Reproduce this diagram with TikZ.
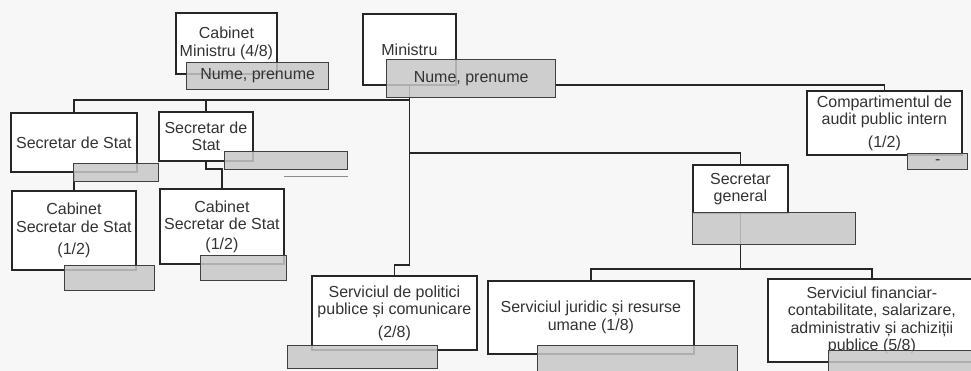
\documentclass[tikz,border=0pt]{standalone}
\usepackage{fontspec}
\setmainfont{Liberation Sans}

\begin{document}
\begin{tikzpicture}[x=1pt, y=-1pt,
    unit/.style={draw=black!85, line width=1.8pt, fill=white, align=center, anchor=north west, inner sep=2pt, text=black!80, font=\fontsize{16}{17.5}\selectfont},
    namebox/.style={draw=black!75, line width=1.3pt, fill=black!22, fill opacity=0.85, text opacity=1, anchor=north west, inner sep=0pt, text=black!80, font=\fontsize{16}{17.5}\selectfont},
    wire/.style={draw=black!85, line width=1.8pt}]
        \useasboundingbox (0,0) rectangle (971,371);
        \fill[black!3] (0,0) rectangle (971,371);
        \clip (0,0) rectangle (971,371);

        % units
        \node (cabmin) [unit, minimum width=101pt, minimum height=61pt] at (175,12) {Cabinet\\Ministru (4/8)};
        \node (ministru) [unit, minimum width=93pt, minimum height=71pt] at (362,13) {Ministru};
        \node (audit) [unit, minimum width=155pt, minimum height=64pt] at (806,90) {Compartimentul de\\audit public intern\\[5pt](1/2)};
        \node (ss1) [unit, minimum width=126pt, minimum height=59pt] at (10,112) {Secretar de Stat};
        \node (ss2) [unit, minimum width=94pt, minimum height=49pt] at (158,111) {Secretar de\\Stat};
        \node (cab1) [unit, minimum width=124pt, minimum height=79pt] at (11,190) {Cabinet\\Secretar de Stat\\[5pt](1/2)};
        \node (cab2) [unit, minimum width=124pt, minimum height=75pt] at (159,188) {Cabinet\\Secretar de Stat\\[2pt](1/2)};
        \node (sg) [unit, minimum width=95pt, minimum height=48pt] at (692,164) {Secretar\\general};
        \node (pol) [unit, minimum width=165pt, minimum height=74pt] at (311,275) {Serviciul de politici\\publice și comunicare\\[5pt](2/8)};
        \node (jur) [unit, minimum width=206pt, minimum height=73pt] at (487,280) {Serviciul juridic și resurse\\umane (1/8)};
        \node (fin) [unit, minimum width=208pt, minimum height=83pt] at (767,278) {Serviciul financiar-\\contabilitate, salarizare,\\administrativ și achiziții\\publice  (5/8)};

        % buses
        \coordinate (topbus) at (0,100);
        \coordinate (midbus) at (0,153);
        \coordinate (polbus) at (0,265);
        \coordinate (sgbus) at (0,269);

        \draw[wire] (ss1.north) |- (topbus -| ministru.south);
        \draw[wire] (ss2.north) -- (ss2.north |- topbus);
        \draw[wire] (sg.north) |- (midbus -| ministru.south);
        \draw[wire] (ministru.south) -- (ministru.south |- polbus) -| (pol.north);
        \draw[wire] (ss1.south) -- (cab1.north);
        \draw[wire] (ss2.south) -- ++(0,7) -| (cab2.north);
        \draw[wire] (sg.south) -- (sg.south |- sgbus) -| (jur.north);
        \draw[wire] (sg.south |- sgbus) -| (fin.north);

        % name boxes
        \node (cabminN) [namebox, minimum width=142pt, minimum height=27pt] at (186,62) {Nume, prenume};
        \node (ministruN) [namebox, minimum width=169pt, minimum height=38pt] at (386,59) {Nume, prenume};
        \node (auditN) [namebox, minimum width=60pt, minimum height=16pt] at (907,153) {-};
        \node (ss1N) [namebox, minimum width=85pt, minimum height=18pt] at (73,163) {};
        \node (ss2N) [namebox, minimum width=123pt, minimum height=18pt] at (224,151) {};
        \node (cab1N) [namebox, minimum width=90pt, minimum height=25pt] at (64,265) {};
        \node (cab2N) [namebox, minimum width=86pt, minimum height=25pt] at (200,255) {};
        \node (sgN) [namebox, minimum width=163pt, minimum height=32pt] at (692,212) {};
        \node (polN) [namebox, minimum width=150pt, minimum height=23pt] at (287,345) {};
        \node (jurN) [namebox, minimum width=200pt, minimum height=35pt] at (537,345) {};
        \node (finN) [namebox, minimum width=162pt, minimum height=30pt] at (828,350) {};

        \draw[wire] ([yshift=-6pt]ministruN.east) -| (audit.north);
        \draw[black!45, line width=1.2pt] ([yshift=-6pt]ss2N.south east) -- ++(-64,0);
    \end{tikzpicture}
\end{document}
